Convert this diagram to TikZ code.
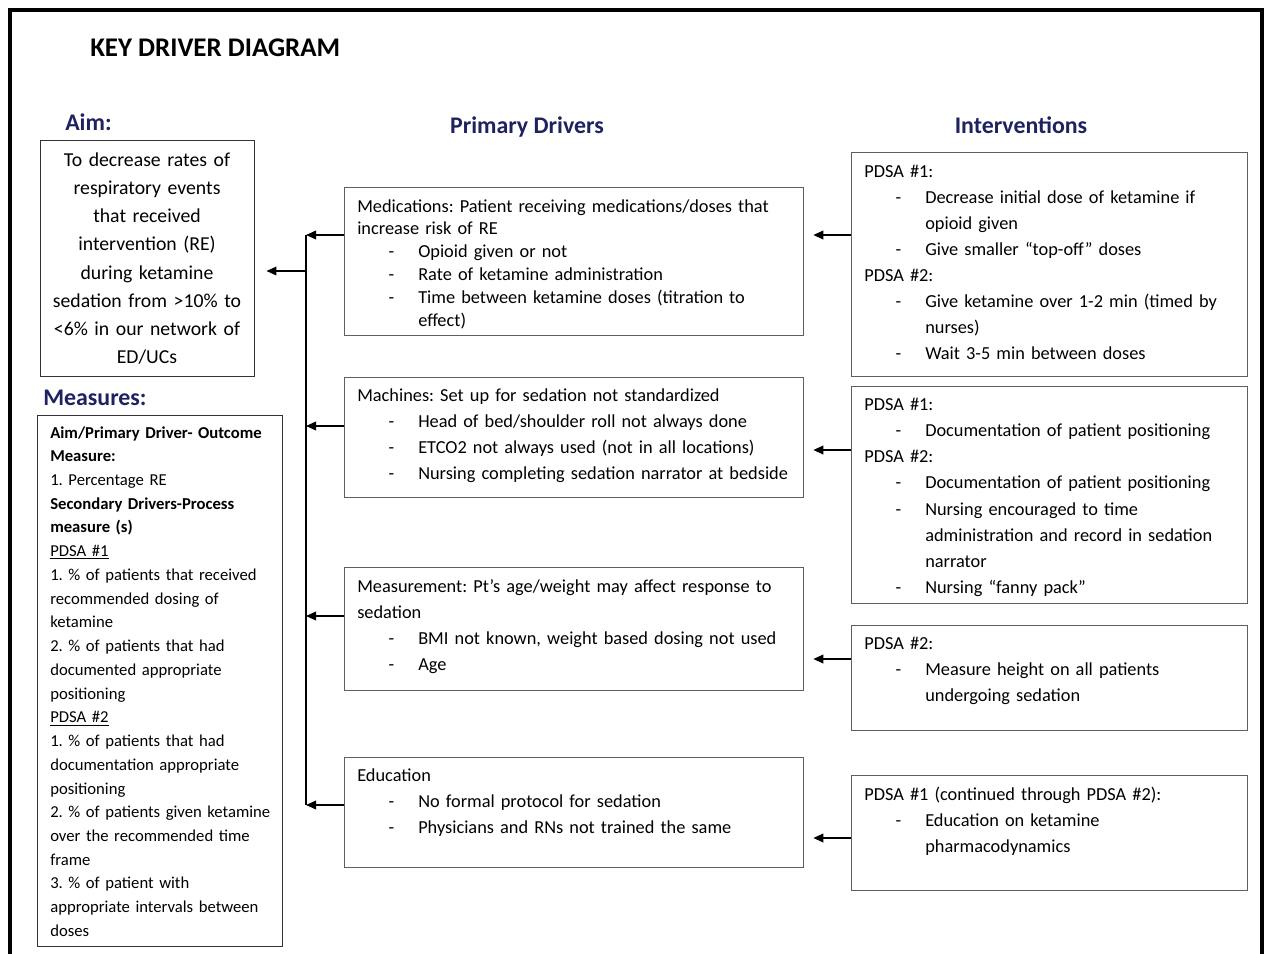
\documentclass[tikz,border=0pt]{standalone}
\usepackage{fontspec}
\setmainfont{Carlito}
\usetikzlibrary{arrows.meta}
\frenchspacing
\definecolor{navy}{RGB}{30,34,94}
\definecolor{boxgray}{RGB}{95,95,95}
\newcommand{\bitem}[1]{\makebox[45.75pt][l]{\hspace{23.5pt}-}#1}
\newcommand{\bcont}[1]{\hspace*{45.75pt}#1}
\tikzset{
  box/.style={draw=boxgray, line width=1pt, rectangle, inner sep=0pt, anchor=north west},
  darkbox/.style={draw=black!80, line width=1.1pt, rectangle, inner sep=0pt, anchor=north west},
  txt/.style={inner sep=0pt, anchor=base west, align=left, text width=345pt},
  head/.style={inner sep=0pt, font=\fontsize{17.9}{21}\selectfont\bfseries, text=navy},
  arr/.style={-{Triangle[length=7.5pt,width=6.5pt]}, line width=1.1pt},
  bus/.style={line width=1.1pt}
}
\begin{document}
\begin{tikzpicture}[x=0.75pt,y=-0.75pt]
\useasboundingbox (0,0) rectangle (1265,954);
% outer frame
\draw[line width=2.4pt] (10,954) -- (10,10) -- (1262,10) -- (1262,954);
% title and headings
\node[inner sep=0pt, anchor=base west, font=\fontsize{20.2}{24}\selectfont\bfseries] (title) at (90,56) {KEY DRIVER DIAGRAM};
\node[head, anchor=base west] (aimlbl) at (65,130) {Aim:};
\node[head, anchor=base] (pdlbl) at (527,133) {Primary Drivers};
\node[head, anchor=base] (intlbl) at (1021,133) {Interventions};
\node[head, anchor=base west] (meslbl) at (43,405) {Measures:};
% aim box
\node[darkbox, minimum width=214*0.75pt, minimum height=236*0.75pt] (aim) at (40,140) {};
\node[inner sep=0pt, anchor=base, align=center, text width=205*0.75pt, font=\fontsize{14.8}{21.2}\selectfont] (aimtxt) at (147,166)
 {To decrease rates of\\ respiratory events\\ that received\\ intervention (RE)\\ during ketamine\\ sedation from >10\% to\\ <6\% in our network of\\ ED/UCs};
% measures box
\node[darkbox, minimum width=245*0.75pt, minimum height=531*0.75pt] (mes) at (37,415) {};
\node[txt, text width=230*0.75pt, font=\fontsize{12.5}{17.8}\selectfont] (mestxt) at (50,438)
 {\textbf{Aim/Primary Driver- Outcome}\\
\textbf{Measure:}\\
1. Percentage RE\\
\textbf{Secondary Drivers-Process}\\
\textbf{measure (s)}\\
\underline{PDSA \#1}\\
1. \% of patients that received\\
recommended dosing of\\
ketamine\\
2. \% of patients that had\\
documented appropriate\\
positioning\\
\underline{PDSA \#2}\\
1. \% of patients that had\\
documentation appropriate\\
positioning\\
2. \% of patients given ketamine\\
over the recommended time\\
frame\\
3. \% of patient with\\
appropriate intervals between\\
doses};
% driver boxes
\node[box, minimum width=459*0.75pt, minimum height=148*0.75pt] (med) at (344,187) {};
\node[txt, font=\fontsize{13.75}{17.1}\selectfont] (medtxt) at (357,212)
 {Medications: Patient receiving medications/doses that\\
increase risk of RE\\
\bitem{Opioid given or not}\\
\bitem{Rate of ketamine administration}\\
\bitem{Time between ketamine doses (titration to}\\
\bcont{effect)}};
\node[box, minimum width=459*0.75pt, minimum height=120*0.75pt] (mach) at (344,377) {};
\node[txt, font=\fontsize{13.75}{19.6}\selectfont] (machtxt) at (357,401)
 {Machines: Set up for sedation not standardized\\
\bitem{Head of bed/shoulder roll not always done}\\
\bitem{ETCO2 not always used (not in all locations)}\\
\bitem{Nursing completing sedation narrator at bedside}};
\node[box, minimum width=459*0.75pt, minimum height=123*0.75pt] (meas) at (344,567) {};
\node[txt, font=\fontsize{13.75}{19.5}\selectfont] (meastxt) at (357,592)
 {Measurement: Pt’s age/weight may affect response to\\
sedation\\
\bitem{BMI not known, weight based dosing not used}\\
\bitem{Age}};
\node[box, minimum width=459*0.75pt, minimum height=110*0.75pt] (edu) at (344,757) {};
\node[txt, font=\fontsize{13.75}{19.8}\selectfont] (edutxt) at (357,781)
 {Education\\
\bitem{No formal protocol for sedation}\\
\bitem{Physicians and RNs not trained the same}};
% intervention boxes
\node[box, minimum width=396*0.75pt, minimum height=224*0.75pt] (i1) at (851,152) {};
\node[txt, text width=385*0.75pt, font=\fontsize{13.75}{19.5}\selectfont] (i1txt) at (864,177)
 {PDSA \#1:\\
\bitem{Decrease initial dose of ketamine if}\\
\bcont{opioid given}\\
\bitem{Give smaller “top-off” doses}\\
PDSA \#2:\\
\bitem{Give ketamine over 1-2 min (timed by}\\
\bcont{nurses)}\\
\bitem{Wait 3-5 min between doses}};
\node[box, minimum width=396*0.75pt, minimum height=217*0.75pt] (i2) at (851,386) {};
\node[txt, text width=385*0.75pt, font=\fontsize{13.75}{19.7}\selectfont] (i2txt) at (864,410)
 {PDSA \#1:\\
\bitem{Documentation of patient positioning}\\
PDSA \#2:\\
\bitem{Documentation of patient positioning}\\
\bitem{Nursing encouraged to time}\\
\bcont{administration and record in sedation}\\
\bcont{narrator}\\
\bitem{Nursing “fanny pack”}};
\node[box, minimum width=396*0.75pt, minimum height=105*0.75pt] (i3) at (851,625) {};
\node[txt, text width=385*0.75pt, font=\fontsize{13.75}{19.8}\selectfont] (i3txt) at (864,649)
 {PDSA \#2:\\
\bitem{Measure height on all patients}\\
\bcont{undergoing sedation}};
\node[box, minimum width=396*0.75pt, minimum height=115*0.75pt] (i4) at (851,775) {};
\node[txt, text width=385*0.75pt, font=\fontsize{13.75}{19.5}\selectfont] (i4txt) at (864,800)
 {PDSA \#1 (continued through PDSA \#2):\\
\bitem{Education on ketamine}\\
\bcont{pharmacodynamics}};
% bus and connectors
\coordinate (j1) at (306,235);
\coordinate (j2) at (306,426);
\coordinate (j3) at (306,616);
\coordinate (j4) at (306,805);
\coordinate (jaim) at (306,271);
\draw[bus] (j1) -- (j4);
\draw[arr] (med.west |- j1) -- (j1);
\draw[arr] (mach.west |- j2) -- (j2);
\draw[arr] (meas.west |- j3) -- (j3);
\draw[arr] (edu.west |- j4) -- (j4);
\draw[arr, shorten >=8.25pt] (jaim) -- (aim.east |- jaim);
\draw[arr, shorten >=6.75pt] (i1.west |- 0,235) -- (med.east |- 0,235);
\draw[arr, shorten >=6.75pt] (i2.west |- 0,450) -- (mach.east |- 0,450);
\draw[arr, shorten >=6.75pt] (i3.west |- 0,659) -- (meas.east |- 0,659);
\draw[arr, shorten >=6.75pt] (i4.west |- 0,838) -- (edu.east |- 0,838);
\end{tikzpicture}
\end{document}
